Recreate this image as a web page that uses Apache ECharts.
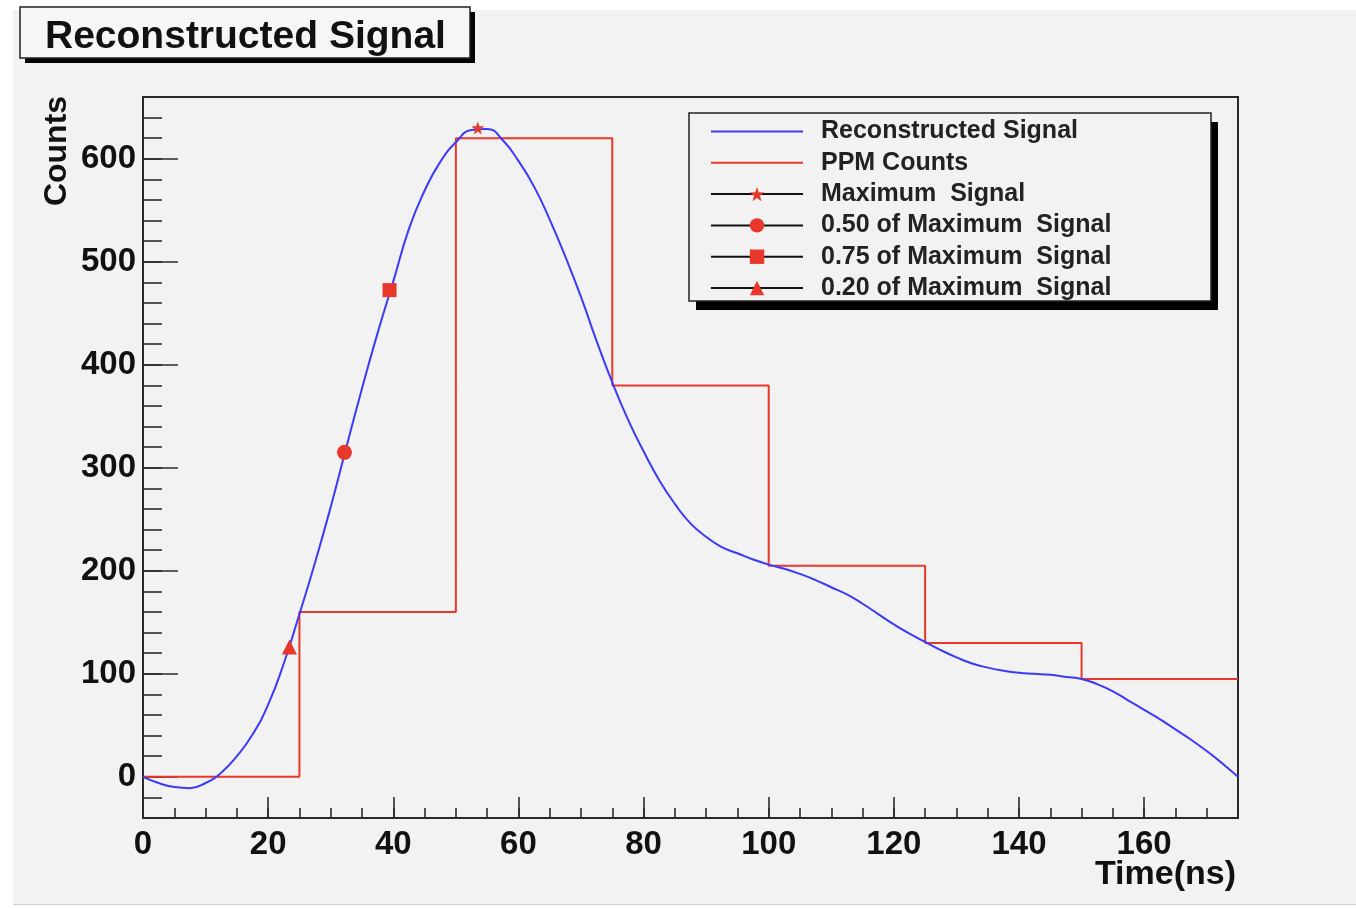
<!DOCTYPE html>
<html>
<head>
<meta charset="utf-8">
<title>Reconstructed Signal</title>
<script src="https://cdn.jsdelivr.net/npm/echarts@6/dist/echarts.min.js"></script>
<style>
  html, body { margin: 0; padding: 0; background: #ffffff; }
  #pad { position: absolute; left: 13px; top: 10px; width: 1343px; height: 894px; background: #f2f2f2; border-bottom: 1px solid #cfcfcf; }
  #chart { position: absolute; left: 0; top: 0; width: 1356px; height: 908px; }
</style>
</head>
<body>
<div id="pad"></div>
<div id="chart"></div>
<script>
// Reconstructed pulse shape (time in ns, counts)
const signalTime = [0, 2.5, 5, 7.5, 10, 12.5, 15, 17.5, 20, 22.5, 25, 27.5, 30, 32.5, 35, 37.5, 40, 42.5, 45, 47.5,
  50, 52.5, 55, 57.5, 60, 62.5, 65, 67.5, 70, 72.5, 75, 77.5, 80, 82.5, 85, 87.5, 90, 92.5, 95, 97.5,
  100, 102.5, 105, 107.5, 110, 112.5, 115, 117.5, 120, 122.5, 125, 127.5, 130, 132.5, 135, 137.5, 140, 142.5, 145, 147.5,
  150, 152.5, 155, 157.5, 160, 162.5, 165, 167.5, 170, 172.5, 175];
const signalCounts = [0, -6, -10, -11, -6, 4, 20, 41, 70, 110, 158, 208, 262, 320, 377, 431, 481, 532, 569, 597,
  616, 628, 629, 618, 598, 573, 541, 505, 466, 423, 383, 347, 316, 288, 265, 246, 233, 223, 217, 211,
  206, 202, 197, 191, 184, 177, 168, 158, 148, 139, 131, 123, 116, 110, 106, 103, 101, 100, 99, 97,
  95, 90, 83, 74, 65, 56, 46, 36, 25, 13, 0];

// PPM samples: 25 ns bins
const ppmEdges = [0, 25, 50, 75, 100, 125, 150, 175];
const ppmCounts = [0, 160, 620, 380, 205, 130, 95];

// Characteristic points on the rising edge
const maxPoint = [53.5, 630];
const halfPoint = [32.2, 315];
const threeQuarterPoint = [39.4, 472.5];
const fifthPoint = [23.4, 126];

// Axis tick labels
const xTickLabels = [0, 20, 40, 60, 80, 100, 120, 140, 160];
const yTickLabels = [0, 100, 200, 300, 400, 500, 600];

const FONT = '"Liberation Sans", Arial, Helvetica, sans-serif';
const RED = '#e8382b';
const BLUE = '#3a3af8';
const AXIS = '#2a2a2a';
const STAR = 'path://M0,-10 L2.35,-3.24 L9.51,-3.09 L3.8,1.24 L5.88,8.09 L0,4 L-5.88,8.09 L-3.8,1.24 L-9.51,-3.09 L-2.35,-3.24 Z';

const signalData = signalTime.map((t, i) => [t, signalCounts[i]]);
const ppmData = ppmCounts.map((c, i) => [ppmEdges[i], c]);
ppmData.push([ppmEdges[ppmEdges.length - 1], ppmCounts[ppmCounts.length - 1]]);

const chart = echarts.init(document.getElementById('chart'), null, { renderer: 'canvas' });

const markerSeries = (name, pt, symbol, size) => ({
  name: name,
  type: 'line',
  data: [pt],
  symbol: symbol,
  symbolSize: size,
  showSymbol: true,
  itemStyle: { color: RED },
  lineStyle: { color: '#111', width: 2 },
  z: 5
});

// Framed boxes with a hard drop shadow (title pave and legend pave)
const paveBox = (x, y, w, h, sx, sy, fill) => ([
  { type: 'rect', z: 1, silent: true, shape: { x: x + sx, y: y + sy, width: w, height: h }, style: { fill: '#000' } },
  { type: 'rect', z: 1, silent: true, shape: { x: x, y: y, width: w, height: h }, style: { fill: fill, stroke: '#222', lineWidth: 1.5 } }
]);

chart.setOption({
  backgroundColor: 'transparent',
  animation: false,
  title: {
    text: 'Reconstructed Signal',
    left: 45,
    top: 17,
    padding: 0,
    textStyle: { fontFamily: FONT, fontWeight: 'bold', fontSize: 39, color: '#111', lineHeight: 40 }
  },
  legend: {
    orient: 'vertical',
    left: 689,
    top: 113,
    padding: [6, 99, 2, 21],
    itemWidth: 92,
    itemHeight: 18,
    itemGap: 6.3,
    backgroundColor: 'transparent',
    borderWidth: 0,
    textStyle: { fontFamily: FONT, fontWeight: 'bold', fontSize: 25, color: '#222', lineHeight: 24, padding: [0, 0, 0, 13] },
    data: [
      { name: 'Reconstructed Signal', itemStyle: { opacity: 0 } },
      { name: 'PPM Counts', itemStyle: { opacity: 0 } },
      { name: 'Maximum  Signal' },
      { name: '0.50 of Maximum  Signal' },
      { name: '0.75 of Maximum  Signal' },
      { name: '0.20 of Maximum  Signal' }
    ]
  },
  grid: {
    left: 143, top: 97, width: 1095, height: 721,
    show: true, borderColor: AXIS, borderWidth: 2, backgroundColor: 'transparent',
    containLabel: false
  },
  xAxis: [
    {
      type: 'value', min: 0, max: 175, position: 'bottom',
      axisLine: { show: true, onZero: false, lineStyle: { color: AXIS, width: 2 } },
      axisTick: { show: true, inside: true, length: 21, customValues: xTickLabels, lineStyle: { color: AXIS, width: 1.6 } },
      axisLabel: { show: true, customValues: xTickLabels, margin: 10, fontFamily: FONT, fontWeight: 'bold', fontSize: 33, color: '#111' },
      splitLine: { show: false }
    },
    {
      type: 'value', min: 0, max: 175, interval: 5, position: 'bottom',
      axisLine: { show: false, onZero: false },
      axisTick: { show: true, inside: true, length: 10, lineStyle: { color: AXIS, width: 1.6 } },
      axisLabel: { show: false },
      splitLine: { show: false }
    }
  ],
  yAxis: [
    {
      type: 'value', min: -40, max: 660, position: 'left',
      axisLine: { show: true, onZero: false, lineStyle: { color: AXIS, width: 2 } },
      axisTick: { show: true, inside: true, length: 35, customValues: yTickLabels, lineStyle: { color: AXIS, width: 1.6 } },
      axisLabel: { show: true, customValues: yTickLabels, margin: 7, fontFamily: FONT, fontWeight: 'bold', fontSize: 33, color: '#111' },
      splitLine: { show: false }
    },
    {
      type: 'value', min: -40, max: 660, interval: 20, position: 'left', offset: 0,
      axisLine: { show: false, onZero: false },
      axisTick: { show: true, inside: true, length: 19, lineStyle: { color: AXIS, width: 1.6 } },
      axisLabel: { show: false },
      splitLine: { show: false }
    }
  ],
  graphic: [
    ...paveBox(20, 7, 450, 51, 5, 5, '#f6f6f6'),
    ...paveBox(689, 113, 522, 188, 7, 9, '#f2f2f2'),
    {
      type: 'text',
      x: 57, y: 151,
      rotation: Math.PI / 2,
      style: { text: 'Counts', font: 'bold 32px ' + FONT, fill: '#111', align: 'center', verticalAlign: 'middle' }
    },
    {
      type: 'text',
      x: 1236, y: 875,
      style: { text: 'Time(ns)', font: 'bold 34px ' + FONT, fill: '#111', align: 'right', verticalAlign: 'middle' }
    }
  ],
  series: [
    {
      name: 'PPM Counts',
      type: 'line',
      step: 'end',
      data: ppmData,
      showSymbol: false,
      symbol: 'circle',
      itemStyle: { color: RED },
      lineStyle: { color: RED, width: 2 },
      z: 2
    },
    {
      name: 'Reconstructed Signal',
      type: 'line',
      smooth: true,
      data: signalData,
      showSymbol: false,
      symbol: 'circle',
      itemStyle: { color: BLUE },
      lineStyle: { color: BLUE, width: 2 },
      z: 3
    },
    markerSeries('Maximum  Signal', maxPoint, STAR, 13),
    markerSeries('0.50 of Maximum  Signal', halfPoint, 'circle', 15),
    markerSeries('0.75 of Maximum  Signal', threeQuarterPoint, 'rect', 14),
    markerSeries('0.20 of Maximum  Signal', fifthPoint, 'triangle', 15)
  ]
});
</script>
</body>
</html>
